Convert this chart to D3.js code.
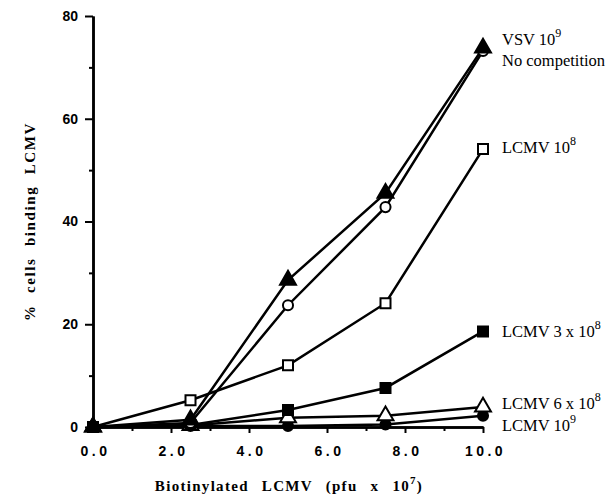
<!DOCTYPE html>
<html>
<head>
<meta charset="utf-8">
<script src="https://cdn.jsdelivr.net/npm/d3@7"></script>
<style>
  body { margin: 0; background: #fff; }
  svg { display: block; }
  .tick text { font-family: "Liberation Sans", Arial, sans-serif; font-weight: bold; font-size: 14px; }
  .serif { font-family: "Liberation Serif", "Times New Roman", serif; }
</style>
</head>
<body>
<script>
// data
const doses = [0, 2.5, 5.0, 7.5, 10.0];
const vsv = [0, 1.4, 28.6, 45.5, 73.8];          // filled triangle
const noComp = [0, 0.8, 23.7, 42.8, 73.2];       // open circle
const lcmv1e8 = [0, 5.2, 12.0, 24.1, 54.1];      // open square
const lcmv3e8 = [0, 0.4, 3.3, 7.6, 18.6];        // filled square
const lcmv6e8 = [0, 0.3, 1.8, 2.2, 3.9];         // open triangle
const lcmv1e9 = [0, 0.2, 0.2, 0.5, 2.2];         // filled circle
const xMajor = [0, 2, 4, 6, 8, 10];
const xMinor = [1, 3, 5, 7, 9];
const yMajor = [0, 20, 40, 60, 80];
const yMinor = [10, 30, 50, 70];

const width = 614, height = 494;
const x = d3.scaleLinear().domain([0, 10]).range([93, 483]);
const y = d3.scaleLinear().domain([0, 80]).range([427, 16]);

const svg = d3.select('body').append('svg')
    .attr('width', width).attr('height', height);

// series, drawn bottom to top
const series = [
    {values: lcmv1e9, marker: 'circle', fill: '#000'},
    {values: lcmv6e8, marker: 'triangle', fill: '#fff'},
    {values: lcmv3e8, marker: 'square', fill: '#000'},
    {values: lcmv1e8, marker: 'square', fill: '#fff'},
    {values: noComp, marker: 'circle', fill: '#fff'},
    {values: vsv, marker: 'triangle', fill: '#000'}
];

// axes
function styleAxis(g) {
    g.select('.domain').attr('stroke', '#000').attr('stroke-width', 2.5);
    g.selectAll('.tick line').attr('stroke', '#000').attr('stroke-width', 2);
}

svg.append('g')
    .attr('transform', `translate(${x(0)},0)`)
    .call(d3.axisLeft(y).tickValues(yMinor).tickSize(4).tickFormat('').tickSizeOuter(0))
    .call(styleAxis);
svg.append('g')
    .attr('transform', `translate(${x(0)},0)`)
    .call(d3.axisLeft(y).tickValues(yMajor).tickSize(8).tickPadding(7).tickFormat(d3.format('d')).tickSizeOuter(0))
    .call(styleAxis);

svg.append('g')
    .attr('transform', `translate(0,${y(0)})`)
    .call(d3.axisBottom(x).tickValues(xMinor).tickSize(4).tickFormat('').tickSizeOuter(0))
    .call(styleAxis);
svg.append('g')
    .attr('transform', `translate(0,${y(0)})`)
    .call(d3.axisBottom(x).tickValues(xMajor).tickSize(6).tickPadding(13).tickFormat(d3.format('.1f')).tickSizeOuter(0))
    .call(styleAxis)
    .call(g => g.selectAll('.tick text').attr('letter-spacing', 3.5).attr('dx', 2));

// axis titles
svg.append('text')
    .attr('class', 'serif')
    .attr('transform', `translate(35,${(y(0) + y(80)) / 2}) rotate(-90)`)
    .attr('text-anchor', 'middle')
    .attr('font-size', 15).attr('font-weight', 'bold')
    .attr('letter-spacing', 1.6).attr('word-spacing', 6)
    .text('% cells binding LCMV');

const xt = svg.append('text')
    .attr('class', 'serif')
    .attr('x', 289).attr('y', 491)
    .attr('text-anchor', 'middle')
    .attr('font-size', 15).attr('font-weight', 'bold')
    .attr('letter-spacing', 1.3).attr('word-spacing', 8);
xt.append('tspan').text('Biotinylated LCMV (pfu x 10');
xt.append('tspan').attr('dy', -7).attr('font-size', 11).text('7');
xt.append('tspan').attr('dy', 7).text(')');

// lines
const line = d3.line().x((d, i) => x(doses[i])).y(d => y(d));
svg.append('g').selectAll('path')
    .data(series)
    .join('path')
    .attr('d', s => line(s.values))
    .attr('fill', 'none')
    .attr('stroke', '#000')
    .attr('stroke-width', 2.5);

// markers
const sym = {
    circle: d3.symbol(d3.symbolCircle, 80),
    square: d3.symbol(d3.symbolSquare, 100),
    triangle: d3.symbol(d3.symbolTriangle, 110)
};
series.forEach(s => {
    svg.append('g').selectAll('path')
        .data(s.values)
        .join('path')
        .attr('transform', (d, i) => `translate(${x(doses[i])},${y(d)})`)
        .attr('d', sym[s.marker]())
        .attr('fill', s.fill)
        .attr('stroke', '#000')
        .attr('stroke-width', 2);
});

// series labels
const labels = [
    {t: 'VSV 10', sup: '9', yy: 45},
    {t: 'No competition', sup: '', yy: 66},
    {t: 'LCMV 10', sup: '8', yy: 153},
    {t: 'LCMV 3 x 10', sup: '8', yy: 337},
    {t: 'LCMV 6 x 10', sup: '8', yy: 409},
    {t: 'LCMV 10', sup: '9', yy: 431}
];
labels.forEach(l => {
    const t = svg.append('text')
        .attr('class', 'serif')
        .attr('x', 502).attr('y', l.yy)
        .attr('font-size', 16.5);
    t.append('tspan').text(l.t);
    if (l.sup) t.append('tspan').attr('dy', -8).attr('font-size', 12).text(l.sup);
});
</script>
</body>
</html>
